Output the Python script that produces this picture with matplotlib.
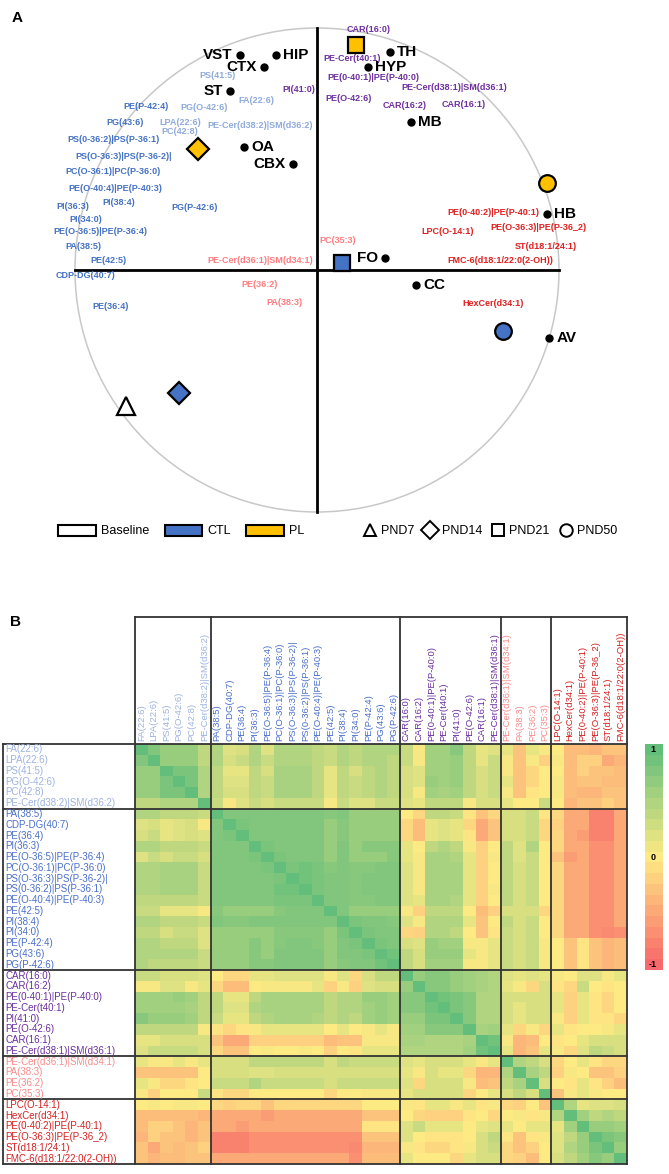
import matplotlib
matplotlib.use("Agg")
import matplotlib.pyplot as plt
import numpy as np
from matplotlib.patches import Circle, Patch
from matplotlib.lines import Line2D
from matplotlib.colors import LinearSegmentedColormap

plt.rcParams['font.family'] = ['Liberation Sans', 'DejaVu Sans']

# ---------------- panel A data (biplot scores, unit circle) ----------------
regions = ['VST', 'HIP', 'CTX', 'ST', 'OA', 'CBX', 'TH', 'HYP', 'MB', 'HB', 'FO', 'CC', 'AV']
region_x = [-0.32, -0.17, -0.22, -0.36, -0.30, -0.10, 0.30, 0.21, 0.39, 0.95, 0.28, 0.41, 0.96]
region_y = [0.89, 0.89, 0.84, 0.74, 0.51, 0.44, 0.90, 0.84, 0.61, 0.23, 0.05, -0.06, -0.28]
region_side = ['l', 'r', 'l', 'l', 'r', 'l', 'r', 'r', 'r', 'r', 'l', 'r', 'r']

grp_names = ['Baseline', 'CTL', 'PL']
grp_colors = ['white', '#4472C4', '#FFC000']
pnd_names = ['PND7', 'PND14', 'PND21', 'PND50']
pnd_markers = ['^', 'D', 's', 'o']
pnd_sizes = [13, 11, 11, 12]

# group index, pnd index, x, y of each sample mean
samples_grp = [0, 1, 2, 2, 1, 2, 1]
samples_pnd = [0, 1, 1, 2, 2, 3, 3]
samples_x = [-0.79, -0.57, -0.49, 0.16, 0.105, 0.95, 0.77]
samples_y = [-0.56, -0.51, 0.50, 0.93, 0.03, 0.36, -0.25]

lip_colors_a = ['#8FAADC', '#4472C4', '#7030A0', '#FF7C80', '#E02020']
lipids_a = ['PS(41:5)', 'FA(22:6)', 'PG(O-42:6)', 'LPA(22:6)', 'PC(42:8)', 'PE-Cer(d38:2)|SM(d36:2)',
            'PE(P-42:4)', 'PG(43:6)', 'PS(0-36:2)|PS(P-36:1)', 'PS(O-36:3)|PS(P-36-2)|',
            'PC(O-36:1)|PC(P-36:0)', 'PE(O-40:4)|PE(P-40:3)', 'PI(38:4)', 'PG(P-42:6)', 'PI(36:3)',
            'PI(34:0)', 'PE(O-36:5)|PE(P-36:4)', 'PA(38:5)', 'PE(42:5)', 'CDP-DG(40:7)', 'PE(36:4)',
            'PI(41:0)', 'CAR(16:0)', 'PE-Cer(t40:1)', 'PE(0-40:1)|PE(P-40:0)', 'PE-Cer(d38:1)|SM(d36:1)',
            'PE(O-42:6)', 'CAR(16:2)', 'CAR(16:1)',
            'PC(35:3)', 'PE-Cer(d36:1)|SM(d34:1)', 'PE(36:2)', 'PA(38:3)',
            'PE(0-40:2)|PE(P-40:1)', 'PE(O-36:3)|PE(P-36_2)', 'LPC(O-14:1)', 'ST(d18:1/24:1)',
            'FMC-6(d18:1/22:0(2-OH))', 'HexCer(d34:1)']
lipids_a_grp = [0] * 6 + [1] * 15 + [2] * 8 + [3] * 4 + [4] * 6
lipids_a_x = [-0.413, -0.249, -0.467, -0.566, -0.566, -0.233,
              -0.708, -0.793, -0.842, -0.798, -0.842, -0.835, -0.818, -0.507, -1.010,
              -0.956, -0.897, -0.966, -0.860, -0.955, -0.855,
              -0.077, 0.212, 0.146, 0.233, 0.566, 0.132, 0.364, 0.605,
              0.084, -0.236, -0.236, -0.136,
              0.729, 0.917, 0.540, 0.945, 0.756, 0.729]
lipids_a_y = [0.802, 0.700, 0.672, 0.610, 0.574, 0.596,
              0.675, 0.610, 0.540, 0.471, 0.408, 0.336, 0.280, 0.257, 0.262,
              0.210, 0.158, 0.099, 0.038, -0.021, -0.149,
              0.744, 0.992, 0.872, 0.796, 0.753, 0.707, 0.678, 0.685,
              0.121, 0.038, -0.058, -0.135,
              0.238, 0.176, 0.158, 0.099, 0.041, -0.138]

# ---------------- panel B data (correlation matrix) ----------------
g1 = ['FA(22:6)', 'LPA(22:6)', 'PS(41:5)', 'PG(O-42:6)', 'PC(42:8)', 'PE-Cer(d38:2)|SM(d36:2)']
g2 = ['PA(38:5)', 'CDP-DG(40:7)', 'PE(36:4)', 'PI(36:3)', 'PE(O-36:5)|PE(P-36:4)',
      'PC(O-36:1)|PC(P-36:0)', 'PS(O-36:3)|PS(P-36-2)|', 'PS(0-36:2)|PS(P-36:1)',
      'PE(O-40:4)|PE(P-40:3)', 'PE(42:5)', 'PI(38:4)', 'PI(34:0)', 'PE(P-42:4)', 'PG(43:6)', 'PG(P-42:6)']
g3 = ['CAR(16:0)', 'CAR(16:2)', 'PE(0-40:1)|PE(P-40:0)', 'PE-Cer(t40:1)', 'PI(41:0)',
      'PE(O-42:6)', 'CAR(16:1)', 'PE-Cer(d38:1)|SM(d36:1)']
g4 = ['PE-Cer(d36:1)|SM(d34:1)', 'PA(38:3)', 'PE(36:2)', 'PC(35:3)']
g5 = ['LPC(O-14:1)', 'HexCer(d34:1)', 'PE(0-40:2)|PE(P-40:1)', 'PE(O-36:3)|PE(P-36_2)',
      'ST(d18:1/24:1)', 'FMC-6(d18:1/22:0(2-OH))']
heat_groups = [g1, g2, g3, g4, g5]
heat_colors = ['#9DB3E0', '#4A6FC9', '#6A2E9E', '#F88A8A', '#D42020']

# lower triangle of the correlation matrix, row by row
corr_lower = [
    [1],
    [.8, 1],
    [.65, .65, 1],
    [.65, .65, .85, 1],
    [.65, .65, .85, .85, 1],
    [.4, .4, .5, .5, .5, 1],
    [.5, .5, .4, .4, .4, .35, 1],
    [.2, .25, .15, .2, .25, .05, .8, 1],
    [.25, .35, .15, .2, .25, .2, .8, .85, 1],
    [.5, .5, .4, .4, .4, .35, .8, .8, .8, 1],
    [.2, .35, .25, .35, .35, .25, .8, .8, .8, .85, 1],
    [.5, .5, .55, .55, .55, .35, .8, .8, .8, .8, .85, 1],
    [.5, .5, .55, .55, .55, .35, .8, .8, .8, .8, .8, .85, 1],
    [.5, .5, .55, .55, .55, .35, .8, .8, .8, .8, .8, .9, .9, 1],
    [.4, .4, .4, .4, .4, .35, .8, .8, .8, .8, .8, .85, .85, .85, 1],
    [.35, .35, .15, .15, .15, .05, .75, .65, .65, .65, .65, .75, .8, .8, .8, 1],
    [.5, .5, .4, .4, .4, .35, .8, .75, .75, .8, .8, .8, .8, .8, .8, .8, 1],
    [.4, .4, .25, .35, .35, .2, .65, .65, .65, .65, .65, .75, .75, .75, .75, .65, .85, 1],
    [.5, .5, .4, .4, .4, .2, .65, .65, .65, .75, .65, .75, .8, .8, .75, .65, .8, .85, 1],
    [.5, .5, .5, .5, .5, .35, .65, .65, .65, .75, .65, .8, .8, .8, .8, .65, .8, .8, .85, 1],
    [.5, .4, .4, .4, .4, .35, .65, .65, .65, .75, .75, .8, .8, .8, .8, .65, .75, .8, .8, .9, 1],
    [.35, .35, .25, .25, .25, .2, 0, -.15, -.15, .15, .15, .2, .2, .2, .2, .05, .2, -.15, .25, .4, .4, 1],
    [.05, .05, .2, .2, .05, .15, -.15, -.35, -.35, 0, .05, .05, .05, .05, .15, -.2, .05, -.2, .2, .25, .25,
     .65, 1],
    [.6, .6, .6, .65, .6, .4, .4, .15, .15, .4, .55, .55, .55, .55, .55, .4, .5, .5, .65, .65, .6,
     .75, .75, 1],
    [.6, .6, .6, .6, .55, .4, .4, .2, .2, .5, .55, .55, .55, .55, .55, .4, .5, .5, .6, .65, .6,
     .75, .75, .9, 1],
    [.75, .65, .65, .65, .6, .4, .35, .15, .15, .4, .5, .55, .55, .55, .5, .4, .5, .4, .6, .65, .6,
     .65, .65, .85, .85, 1],
    [.4, .4, .4, .4, .4, .05, -.05, -.15, -.05, .05, .15, .15, .15, .15, .15, 0, .15, 0, .05, .15, .05,
     .6, .6, .75, .75, .75, 1],
    [.15, .15, .25, .25, .25, .25, -.3, -.5, -.5, -.2, -.2, -.2, -.2, -.2, -.2, -.35, -.3, -.3, .05, .05, .05,
     .55, .55, .5, .5, .5, .55, 1],
    [.2, .35, .35, .35, .35, .25, -.15, -.3, -.3, 0, .05, 0, 0, .05, 0, -.2, 0, -.05, .15, .15, .15,
     .5, .5, .5, .5, .5, .6, .9, 1],
    [.15, .05, .05, .15, .05, .15, .25, .25, .25, .4, .4, .4, .4, .4, .4, .25, .4, .35, .35, .35, .35,
     .2, .15, .25, .25, .25, .15, .05, .15, 1],
    [-.3, -.3, -.3, -.3, -.3, 0, .25, .25, .25, .2, .2, .25, .25, .25, .25, .25, .25, .25, .25, .25, .25,
     .15, .05, .25, .15, .15, -.15, -.4, -.4, .5, 1],
    [.15, .05, -.15, -.15, -.05, 0, .35, .35, .35, .5, .35, .35, .35, .35, .35, .25, .35, .35, .35, .35, .35,
     .2, -.15, .25, .25, .25, .05, -.35, -.3, .4, .55, 1],
    [.05, -.2, 0, 0, 0, .35, -.05, -.15, -.15, 0, 0, 0, 0, 0, 0, -.15, 0, 0, .05, .05, .05,
     .15, .25, .25, .25, .25, -.15, 0, .15, .25, .4, .25, 1],
    [0, .05, 0, .05, .05, 0, -.15, -.2, -.15, -.15, -.3, -.15, -.15, -.15, -.15, -.15, -.15, -.15, 0, 0, 0,
     .05, -.05, .15, .15, .05, .15, -.05, .05, -.15, -.2, 0, -.3, 1],
    [-.35, -.35, -.35, -.35, -.35, -.4, -.5, -.5, -.5, -.5, -.6, -.5, -.5, -.5, -.5, -.5, -.5, -.5,
     -.3, -.3, -.3, 0, -.15, -.2, -.2, -.2, -.05, 0, -.15, 0, .05, -.05, .05, .5, 1],
    [-.35, -.2, -.2, -.3, -.4, -.3, -.5, -.5, -.6, -.5, -.5, -.5, -.5, -.5, -.5, -.5, -.5, -.5,
     -.05, -.05, -.05, .2, .35, .15, .15, .15, 0, .15, .2, .15, 0, .15, .15, .15, .6, 1],
    [-.4, -.2, -.3, -.3, -.4, -.3, -.8, -.8, -.8, -.7, -.7, -.7, -.7, -.7, -.7, -.7, -.7, -.7,
     -.3, -.3, -.3, .2, 0, -.05, -.05, -.05, 0, .25, .4, -.05, -.3, -.05, .05, .2, .4, .65, 1],
    [-.3, -.5, -.3, -.35, -.3, -.2, -.8, -.8, -.8, -.7, -.7, -.7, -.7, -.7, -.7, -.7, -.7, -.75,
     -.4, -.4, -.4, .05, -.05, -.15, -.15, -.05, .05, .25, .35, -.15, -.3, -.2, 0, .2, .5, .65, .85, 1],
    [-.3, -.4, -.35, -.35, -.3, -.3, -.5, -.5, -.5, -.5, -.5, -.5, -.5, -.5, -.5, -.5, -.5, -.7,
     -.35, -.35, -.35, .15, 0, 0, 0, -.15, .15, .25, .25, -.15, -.2, -.35, 0, .25, .4, .6, .75, .65, 1],
]

n = len(corr_lower)
corr = np.zeros((n, n))
for i, row in enumerate(corr_lower):
    corr[i, :len(row)] = row
corr = corr + corr.T - np.diag(np.diag(corr))

labels = [lab for g in heat_groups for lab in g]
label_colors = [heat_colors[k] for k, g in enumerate(heat_groups) for _ in g]
bounds = np.cumsum([len(g) for g in heat_groups])

# ---------------- figure ----------------
W, H = 669, 1174
fig = plt.figure(figsize=(W / 100, H / 100), dpi=100)

# panel A: axes mapped so that the unit circle is 242 px in radius
cx, cy, r = 317, 270, 242
top_h = 560
ax = fig.add_axes([0, 1 - top_h / H, 1, top_h / H])
ax.set_xlim(-cx / r, (W - cx) / r)
ax.set_ylim((cy - top_h) / r, cy / r)
ax.axis('off')

ax.add_patch(Circle((0, 0), 1, fill=False, ec='#c8c8c8', lw=1.1))
ax.plot([-1, 1], [0, 0], color='black', lw=2)
ax.plot([0, 0], [-1, 1], color='black', lw=2)

for lab, g, x, y in zip(lipids_a, lipids_a_grp, lipids_a_x, lipids_a_y):
    ax.text(x, y, lab, color=lip_colors_a[g], fontsize=6.5, fontweight='bold',
            ha='center', va='center')

ax.plot(region_x, region_y, 'o', color='black', ms=5, zorder=4)
for lab, x, y, s in zip(regions, region_x, region_y, region_side):
    off = 5 if s == 'r' else -5
    ax.annotate(lab, (x, y), xytext=(off, 0), textcoords='offset points',
                ha='left' if s == 'r' else 'right', va='center',
                fontsize=11, fontweight='bold', color='black')

for g, p, x, y in zip(samples_grp, samples_pnd, samples_x, samples_y):
    ax.plot(x, y, marker=pnd_markers[p], ms=pnd_sizes[p], mfc=grp_colors[g],
            mec='black', mew=1.6, ls='none', zorder=5)

grp_handles = [Patch(fc=c, ec='black', lw=1.5) for c in grp_colors]
fig.legend(grp_handles, grp_names, loc='center left', bbox_to_anchor=(47 / W, 1 - 531 / H),
           ncol=3, frameon=False, fontsize=9, handlelength=3.0, handleheight=1.0,
           handletextpad=0.45, columnspacing=1.2)
pnd_handles = [Line2D([], [], marker=m, ls='none', mfc='white', mec='black', mew=1.4, ms=9)
               for m in pnd_markers]
fig.legend(pnd_handles, pnd_names, loc='center left', bbox_to_anchor=(352 / W, 1 - 531 / H),
           ncol=4, frameon=False, fontsize=9, handlelength=1.0,
           handletextpad=0.4, columnspacing=0.8)

fig.text(12 / W, 1 - 18 / H, 'A', fontsize=11, fontweight='bold', va='center')
fig.text(10 / W, 1 - 622 / H, 'B', fontsize=11, fontweight='bold', va='center')

# panel B: heatmap
cmap = LinearSegmentedColormap.from_list('xl3', ['#F8696B', '#FFEB84', '#63BE7B'])
hx0, hx1, hy0, hy1 = 135, 627, 744, 1164
axh = fig.add_axes([hx0 / W, 1 - hy1 / H, (hx1 - hx0) / W, (hy1 - hy0) / H])
axh.imshow(corr, cmap=cmap, vmin=-1, vmax=1, aspect='auto', extent=(0, n, n, 0),
           interpolation='nearest')
axh.set_xlim(0, n)
axh.set_ylim(n, 0)
axh.axis('off')

cw = (hx1 - hx0) / n
ch = (hy1 - hy0) / n
x_left = (3 - hx0) / cw
y_top = (617 - hy0) / ch

for i, (lab, c) in enumerate(zip(labels, label_colors)):
    axh.text(x_left + 0.2, i + 0.5, lab, color=c, fontsize=7, ha='left', va='center',
             clip_on=False)
    axh.text(i + 0.5, -0.25, lab, color=c, fontsize=6.8, ha='center', va='bottom',
             rotation=90, clip_on=False)

lc = '#333333'
lw = 1.3
for b in [0] + list(bounds):
    axh.plot([x_left, n], [b, b], color=lc, lw=lw, clip_on=False)
    axh.plot([b, b], [y_top, n], color=lc, lw=lw, clip_on=False)
axh.plot([x_left, x_left], [0, n], color=lc, lw=lw, clip_on=False)
axh.plot([0, n], [y_top, y_top], color=lc, lw=lw, clip_on=False)

# colour scale
cax = fig.add_axes([645 / W, 1 - 970 / H, 18 / W, 226 / H])
cax.imshow(np.linspace(1, -1, 21)[:, None], cmap=cmap, vmin=-1, vmax=1, aspect='auto',
           extent=(0, 1, -1, 1))
cax.set_xlim(0, 1)
cax.set_ylim(-1, 1)
cax.axis('off')
cax.text(0.45, 0.95, '1', fontsize=6.5, fontweight='bold', ha='center', va='center')
cax.text(0.45, 0.0, '0', fontsize=6.5, fontweight='bold', ha='center', va='center')
cax.text(0.45, -0.95, '-1', fontsize=6.5, fontweight='bold', ha='center', va='center')

fig.savefig('out.png', dpi=100)
